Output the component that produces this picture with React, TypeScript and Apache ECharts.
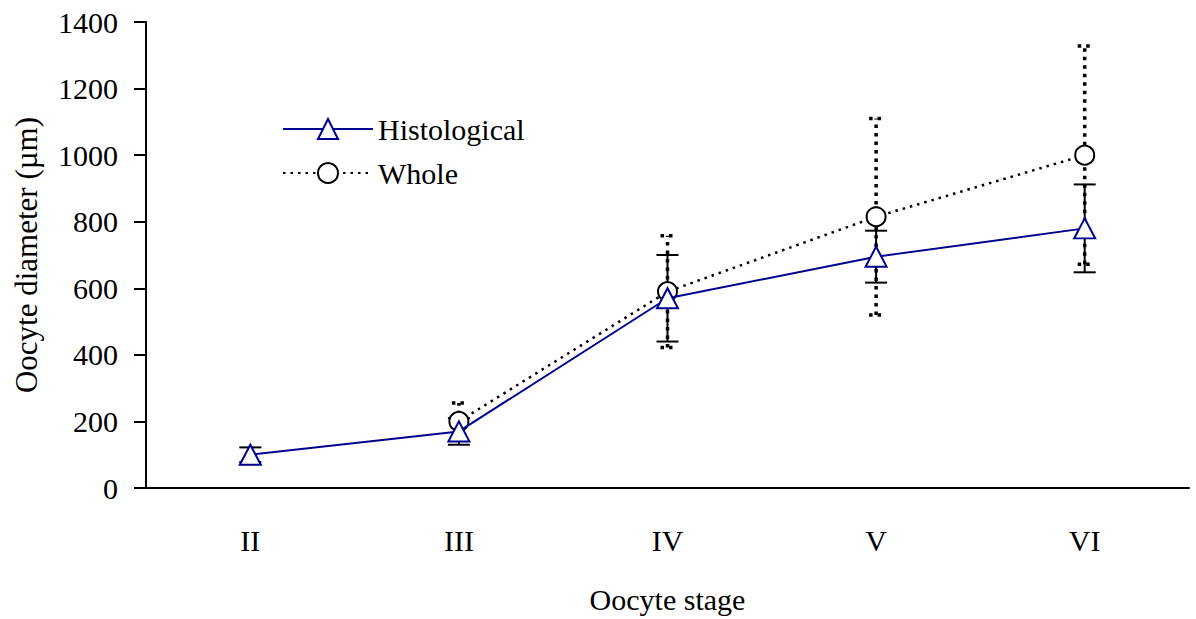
import React, { useEffect, useRef } from "react";
import * as echarts from "echarts";

const stages = ["II", "III", "IV", "V", "VI"];
const histMean = [100, 170, 570, 695, 780];
const histErr = [22, 40, 130, 78, 132];
const wholeMean: (number | null)[] = [null, 200, 590, 815, 1000];
const wholeErr: (number | null)[] = [null, 55, 168, 295, 328];
const yTicks = [0, 200, 400, 600, 800, 1000, 1200, 1400];

const FONT = "'Liberation Serif', 'Times New Roman', serif";
const FS = 30;

function errData(mean: (number | null)[], err: (number | null)[]) {
  const out: any[] = [];
  mean.forEach((m, i) => {
    const e = err[i];
    if (m == null || e == null) return;
    out.push([i, m - e, m + e]);
  });
  return out;
}

function makeRender(halfCap: number, lineStyle: any) {
  return (params: any, api: any) => {
    const x = api.value(0);
    const lo = api.coord([x, api.value(1)]);
    const hi = api.coord([x, api.value(2)]);
    return {
      type: "group",
      children: [
        { type: "line", shape: { x1: lo[0], y1: lo[1], x2: hi[0], y2: hi[1] }, style: lineStyle },
        { type: "line", shape: { x1: lo[0] - halfCap, y1: lo[1], x2: lo[0] + halfCap, y2: lo[1] }, style: lineStyle },
        { type: "line", shape: { x1: hi[0] - halfCap, y1: hi[1], x2: hi[0] + halfCap, y2: hi[1] }, style: lineStyle },
      ],
    };
  };
}

export default function App() {
  const ref = useRef<HTMLDivElement>(null);
  useEffect(() => {
    if (!ref.current) return;
    const chart = echarts.init(ref.current, undefined, { renderer: "svg" });
    chart.setOption({
      animation: false,
      backgroundColor: "#ffffff",
      textStyle: { fontFamily: FONT, color: "#000" },
      grid: { left: 146, right: 7, top: 22, bottom: 130 },
      legend: {
        orient: "vertical",
        left: 282,
        top: 114,
        padding: 0,
        itemWidth: 90,
        itemHeight: 25,
        itemGap: 14,
        textStyle: { fontFamily: FONT, fontSize: FS, lineHeight: 30, color: "#000" },
        data: ["Histological", "Whole"],
      },
      xAxis: {
        type: "category",
        data: stages,
        boundaryGap: true,
        name: "Oocyte stage",
        nameLocation: "middle",
        nameGap: 96,
        nameTextStyle: { fontFamily: FONT, fontSize: FS, color: "#000" },
        axisLine: { lineStyle: { color: "#000", width: 2 } },
        axisTick: { length: 10, lineStyle: { color: "#000", width: 2 } },
        axisLabel: { margin: 37, fontFamily: FONT, fontSize: FS, color: "#000" },
      },
      yAxis: {
        type: "value",
        min: 0,
        max: 1400,
        interval: 200,
        name: "Oocyte diameter (µm)",
        nameLocation: "middle",
        nameGap: 104,
        nameTextStyle: { fontFamily: FONT, fontSize: 31, color: "#000" },
        splitLine: { show: false },
        axisLine: { show: true, lineStyle: { color: "#000", width: 2 } },
        axisTick: { show: true, length: 12, lineStyle: { color: "#000", width: 2 } },
        axisLabel: {
          margin: 28,
          fontFamily: FONT,
          fontSize: FS,
          color: "#000",
          formatter: (v: number) => (yTicks.includes(v) ? String(v) : ""),
        },
      },
      series: [
        {
          type: "custom",
          name: "histErr",
          renderItem: makeRender(11, { stroke: "#000", lineWidth: 2 }),
          data: errData(histMean, histErr),
          encode: { x: 0, y: [1, 2] },
          z: 1,
        },
        {
          type: "custom",
          name: "wholeErr",
          renderItem: makeRender(7, { stroke: "#000", lineWidth: 3.5, lineDash: [3.5, 5] }),
          data: errData(wholeMean, wholeErr),
          encode: { x: 0, y: [1, 2] },
          z: 1,
        },
        {
          type: "line",
          name: "Whole",
          data: wholeMean,
          symbol: "circle",
          symbolSize: 19,
          lineStyle: { color: "#000", width: 2.5, type: [2.5, 5] },
          itemStyle: { color: "#fff", borderColor: "#000", borderWidth: 2 },
          z: 3,
        },
        {
          type: "line",
          name: "Histological",
          data: histMean,
          symbol: "triangle",
          symbolSize: [21, 20],
          lineStyle: { color: "#000090", width: 2 },
          itemStyle: { color: "#fff", borderColor: "#000090", borderWidth: 2 },
          z: 4,
        },
      ],
    });
    return () => chart.dispose();
  }, []);
  return <div ref={ref} style={{ position: "fixed", left: 0, top: 0, width: 1196, height: 619 }} />;
}
